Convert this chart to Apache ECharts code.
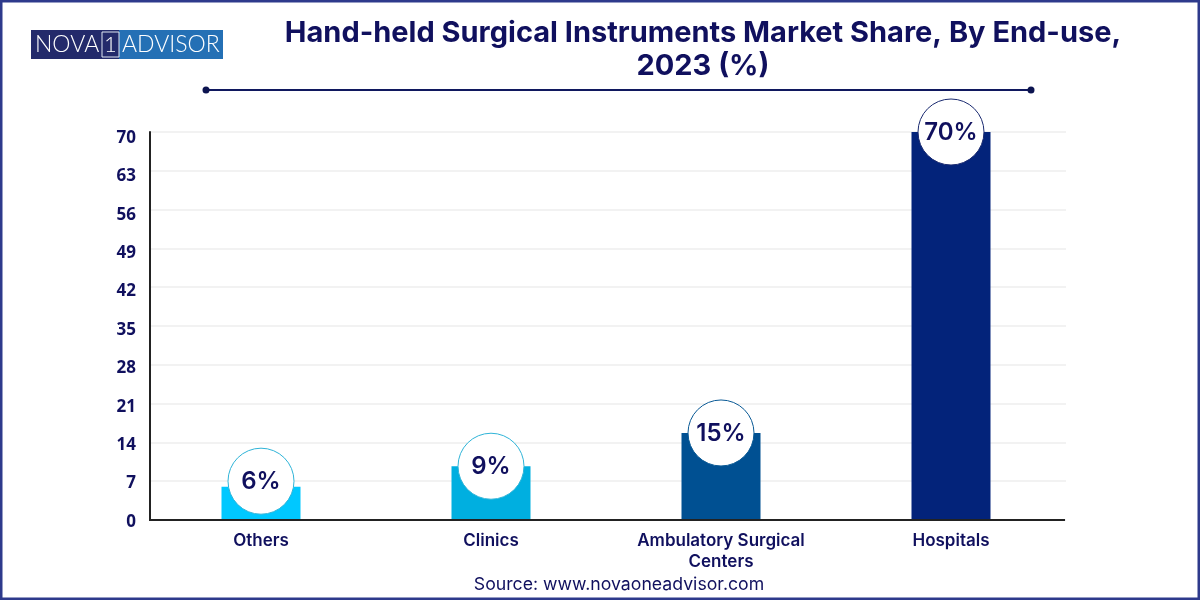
<!DOCTYPE html>
<html>
<head>
<meta charset="utf-8">
<title>Hand-held Surgical Instruments Market Share</title>
<script src="https://cdn.jsdelivr.net/npm/echarts@6/dist/echarts.min.js"></script>
<style>
  html, body { margin: 0; padding: 0; background: #fff; }
  #chart { width: 1200px; height: 600px; }
</style>
</head>
<body>
<div id="chart"></div>
<script>
const categories = ["Others", "Clinics", "Ambulatory Surgical\nCenters", "Hospitals"];
const barHeights = [6, 9.7, 15.7, 70];
const bubbleHeights = [7, 9.7, 15.7, 70];
const shareLabels = ["6%", "9%", "15%", "70%"];
const barColors = ["#00c8ff", "#00afe0", "#005092", "#03237a"];
const bubbleBorders = ["#2fb4d8", "#2fb4d8", "#0a5a96", "#1a2a70"];

const navy = "#10105e";
const textFont = "Inter, 'Noto Sans', sans-serif";

const chart = echarts.init(document.getElementById("chart"));

chart.setOption({
  backgroundColor: "#fff",
  animation: false,
  title: {
    text: "Hand-held Surgical Instruments Market Share, By End-use,\n2023 (%)",
    left: 698,
    top: 12,
    textAlign: "center",
    textStyle: {
      color: navy,
      fontFamily: textFont,
      fontSize: 29,
      fontWeight: 700,
      lineHeight: 33,
    },
  },
  // second grid only carries the tick labels, which sit a little lower than the gridlines
  grid: [
    { left: 146, right: 134, top: 132, bottom: 80 },
    { left: 146, right: 134, top: 138, bottom: 78 },
  ],
  xAxis: [
    {
      type: "category",
      data: categories,
      axisLine: { show: false },
      axisTick: { show: false },
      axisLabel: {
        interval: 0,
        margin: 10,
        color: navy,
        fontFamily: textFont,
        fontSize: 17,
        fontWeight: 600,
        lineHeight: 21,
      },
    },
    { type: "category", gridIndex: 1, data: categories, show: false },
  ],
  yAxis: [
    {
      type: "value",
      min: 0,
      max: 70,
      interval: 7,
      offset: -4,
      axisLine: { show: true, lineStyle: { color: "#222", width: 2 } },
      axisTick: { show: false },
      axisLabel: { show: false },
      splitLine: { lineStyle: { color: "#f2f2f2", width: 2 } },
    },
    {
      type: "value",
      gridIndex: 1,
      min: 0,
      max: 70,
      interval: 7,
      offset: -4,
      axisLine: { show: false },
      axisTick: { show: false },
      splitLine: { show: false },
      axisLabel: {
        margin: 14,
        color: navy,
        fontFamily: "'Open Sans', sans-serif",
        fontSize: 17,
        fontWeight: 700,
      },
    },
  ],
  series: [
    {
      type: "bar",
      barWidth: 79,
      data: barHeights.map((value, i) => ({
        value,
        itemStyle: { color: barColors[i] },
      })),
      z: 2,
    },
    {
      type: "scatter",
      symbol: "circle",
      symbolSize: 66,
      data: bubbleHeights.map((value, i) => ({
        value,
        itemStyle: { color: "#fff", opacity: 1, borderColor: bubbleBorders[i], borderWidth: 1 },
        label: {
          show: true,
          position: "inside",
          offset: [0, 1],
          formatter: shareLabels[i],
          color: navy,
          fontFamily: textFont,
          fontSize: 24,
          fontWeight: 600,
        },
      })),
      z: 3,
    },
  ],
  graphic: [
    // page frame
    { type: "rect", z: 10, shape: { x: 1, y: 1, width: 1198, height: 598 },
      style: { fill: "none", stroke: "#2e3a8c", lineWidth: 3 } },
    // hide the gridline stubs left of the y axis, then draw the x axis line
    { type: "rect", z: 1, shape: { x: 143, y: 125, width: 6, height: 400 }, style: { fill: "#fff" } },
    { type: "line", z: 4, shape: { x1: 149, y1: 520, x2: 1065, y2: 520 },
      style: { stroke: "#222", lineWidth: 2 } },
    // title rule
    { type: "line", z: 4, shape: { x1: 206, y1: 90, x2: 1031, y2: 90 },
      style: { stroke: "#10185e", lineWidth: 2 } },
    { type: "circle", z: 4, shape: { cx: 206, cy: 90, r: 3.5 }, style: { fill: "#0c1450" } },
    { type: "circle", z: 4, shape: { cx: 1031, cy: 90, r: 3.5 }, style: { fill: "#0c1450" } },
    // logo
    { type: "rect", z: 4, shape: { x: 31, y: 30, width: 88, height: 29 }, style: { fill: "#232a6b" } },
    { type: "rect", z: 4, shape: { x: 119, y: 30, width: 104, height: 29 }, style: { fill: "#2470b5" } },
    { type: "rect", z: 5, shape: { x: 102, y: 32, width: 17, height: 25 },
      style: { fill: "none", stroke: "#dfe6f3", lineWidth: 1 } },
    { type: "text", z: 5, x: 35, y: 45, style: { text: "NOVA", fill: "#fff", font: "300 23px Lato, sans-serif", textVerticalAlign: "middle", textAlign: "left" } },
    { type: "text", z: 5, x: 110.5, y: 45, style: { text: "1", fill: "#fff", font: "300 22px Lato, sans-serif", textVerticalAlign: "middle", textAlign: "center" } },
    { type: "text", z: 5, x: 122, y: 45, style: { text: "ADVISOR", fill: "#fff", font: "300 23px Lato, sans-serif", textVerticalAlign: "middle", textAlign: "left" } },
    // source line
    { type: "text", z: 5, x: 619, y: 585, style: { text: "Source: www.novaoneadvisor.com", fill: navy, font: "400 17.7px " + textFont, textAlign: "center", textVerticalAlign: "middle" } },
  ],
});
</script>
</body>
</html>
